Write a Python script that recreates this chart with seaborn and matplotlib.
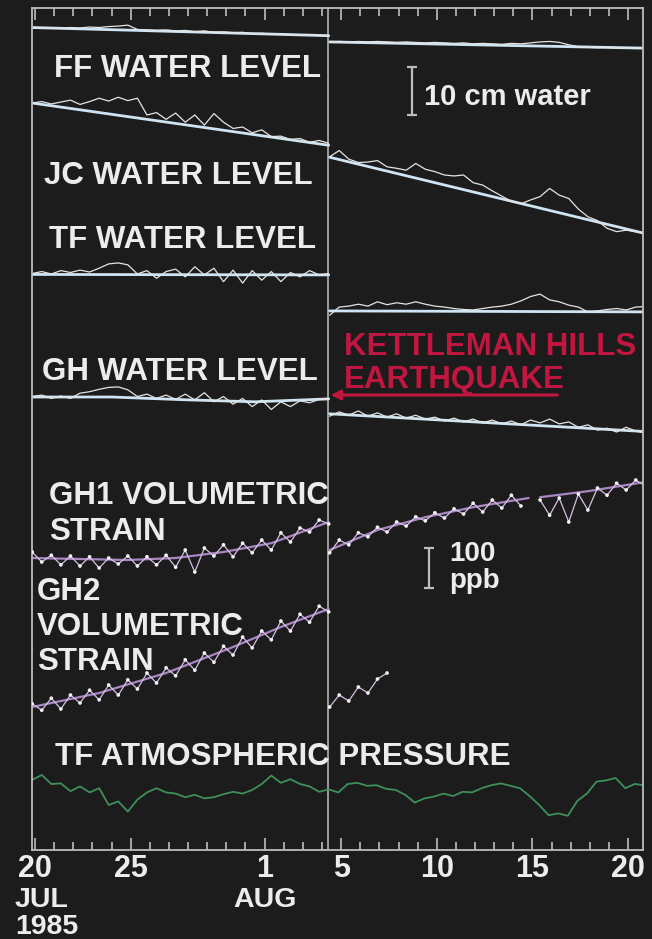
import numpy as np
import pandas as pd
import matplotlib
matplotlib.use("Agg")
import matplotlib.pyplot as plt
import seaborn as sns

BG = "#1c1c1c"
FG = "#ececec"
AXIS = "#bdbdbd"
RED = "#c0163f"

sns.set_style("dark", {"axes.facecolor": BG, "figure.facecolor": BG,
                       "axes.edgecolor": AXIS, "axes.grid": False})
plt.rcParams["font.family"] = ["Liberation Sans", "DejaVu Sans"]

# ---------------------------------------------------------------------------
# Time base: days counted in July 1985 (Aug 1 = 32), sampled twice a day
# ---------------------------------------------------------------------------
LEFT_DAYS = np.arange(19.85, 35.36, 0.5)      # before the earthquake
RIGHT_DAYS = np.arange(35.4, 51.95, 0.5)      # after the earthquake
PRESSURE_DAYS = np.arange(19.85, 51.86, 0.5)
QUAKE_DAY = 35.33                             # Kettleman Hills, 4 Aug 1985

TICK_DAYS = [20, 25, 32, 36, 41, 46, 51]
TICK_LABELS = ["20", "25", "1", "5", "10", "15", "20"]

# ---------------------------------------------------------------------------
# Water levels (cm, relative)
# ---------------------------------------------------------------------------
ff_left = [0.0, -0.1, 0.0, -0.1, 0.1, 0.0, 0.2, 0.1, 0.3, 0.4,
           0.6, -0.3, -0.4, -0.5, -0.4, -0.6, -0.5, -0.8, -0.6, -0.9,
           -0.8, -1.0, -0.9, -1.2, -1.1, -1.3, -1.2, -1.4, -1.5, -1.4,
           -1.6, -1.7]
ff_right = [-2.9, -2.8, -2.9, -2.8, -2.9, -2.8, -2.9, -3.0, -2.9, -3.0,
            -3.1, -3.0, -3.1, -3.2, -3.1, -3.3, -3.2, -3.3, -3.4, -3.2,
            -3.3, -3.1, -2.9, -2.8, -3.0, -3.5, -3.9, -4.0, -4.1, -4.0,
            -4.2, -4.1, -4.2, -4.2]
ff_fit_days = [19.85, 35.35, 35.4, 51.9]
ff_fit = [0.1, -1.6, -2.9, -4.2]

jc_left = [0.0, 0.3, -0.2, 0.2, 0.6, -0.3, 0.3, 1.0, 0.4, 1.2,
           0.5, 1.0, -2.5, -2.0, -3.4, -2.1, -4.0, -2.5, -4.6, -2.2,
           -4.0, -5.3, -5.0, -6.2, -5.6, -7.0, -6.9, -7.6, -7.4, -8.2,
           -7.8, -8.4]
jc_right = [-11.2, -9.9, -11.7, -12.4, -12.3, -12.0, -13.3, -13.6, -14.0, -12.6,
            -13.8, -14.3, -15.0, -15.2, -15.0, -16.6, -17.1, -18.3, -19.4, -20.5,
            -21.0, -20.2, -19.5, -17.8, -19.2, -19.9, -22.1, -23.7, -24.5, -26.1,
            -26.8, -26.5, -26.8, -27.1]
jc_fit_days = [19.85, 35.35, 35.4, 51.9]
jc_fit = [0.0, -8.8, -11.3, -27.2]

tf_left = [-0.1, 0.3, -0.2, 0.5, 0.1, 0.6, 0.2, 1.0, 1.9, 2.1,
           1.7, -0.2, 0.5, -1.1, 0.3, 0.8, -0.8, 1.3, -0.4, 1.0,
           -1.8, 0.6, -2.1, 0.5, -1.5, 0.3, -1.8, 0.1, -0.8, 0.5,
           -0.4, -0.1]
tf_right = [-8.8, -7.1, -6.9, -6.5, -6.9, -6.0, -6.6, -6.2, -6.5, -6.0,
            -6.5, -6.9, -7.1, -7.4, -7.6, -7.7, -7.4, -7.1, -6.9, -6.5,
            -5.8, -4.9, -4.4, -5.6, -6.0, -6.7, -7.1, -8.1, -7.9, -7.6,
            -7.4, -7.7, -7.1, -7.0]
tf_fit_days = [19.85, 35.35, 35.4, 51.9]
tf_fit = [-0.3, -0.4, -7.9, -8.1]

gh_left = [0.1, 0.4, -0.3, 0.2, -0.3, 0.8, 1.1, 1.6, 2.0, 2.1,
           1.5, 0.1, 0.6, -0.3, 0.4, -0.5, 0.6, -0.6, 0.9, -1.0,
           0.1, -1.5, -0.3, -2.0, -0.6, -2.6, -1.0, -2.0, -0.8, -1.2,
           -0.5, -0.3]
gh_right = [-4.0, -3.1, -3.8, -2.9, -4.0, -3.3, -4.2, -3.5, -4.4, -3.8,
            -4.6, -4.2, -5.0, -4.4, -5.2, -4.6, -5.4, -4.8, -5.6, -5.0,
            -5.8, -4.8, -5.4, -4.6, -5.6, -5.2, -6.3, -5.8, -6.9, -6.5,
            -7.3, -6.3, -7.1, -7.5]
gh_fit_left_days = [19.85, 24.0, 28.0, 31.5, 35.35]
gh_fit_left = [0.0, 0.0, -0.6, -1.0, -0.4]
gh_fit_right_days = [35.4, 43.0, 51.9]
gh_fit_right = [-3.5, -5.2, -7.2]

# ---------------------------------------------------------------------------
# Volumetric strain (ppb, relative)
# ---------------------------------------------------------------------------
gh1_left = [20, -5, 12, -12, 10, -15, 8, -20, 5, -10,
            10, -15, 8, -12, 12, -18, 25, -30, 30, 10,
            38, 8, 42, 18, 50, 25, 68, 45, 80, 70,
            100, 90]
gh1_right = [18, 50, 38, 68, 58, 82, 70, 95, 85, 108,
             98, 118, 105, 128, 115, 142, 120, 150, 130, 162,
             135, np.nan, 150, 112, 155, 95, 165, 125, 180, 162,
             192, 175, 200, 185]
gh1_fit_days = [19.85, 24.85, 27.35, 29.85, 32.35, 35.35, 35.37,
                35.4, 37.9, 40.4, 42.9, 45.8, 46.1,
                46.4, 48.9, 51.9]
gh1_fit = [5, 0, 5, 20, 42, 95, np.nan,
           25, 75, 107, 132, 155, np.nan,
           157, 172, 195]

gh2_left = [8, -8, 22, -5, 30, 10, 42, 18, 55, 30,
            68, 45, 85, 60, 98, 78, 118, 92, 135, 112,
            152, 130, 175, 148, 190, 168, 215, 190, 232, 212,
            252, 238]
gh2_right = [0, 30, 15, 50, 35, 70, 85]
gh2_fit_days = [19.85, 23.35, 26.85, 30.35, 32.85, 35.35]
gh2_fit = [0, 35, 85, 150, 200, 245]

# ---------------------------------------------------------------------------
# Atmospheric pressure at TF (mbar, relative)
# ---------------------------------------------------------------------------
tf_pressure = [1.7, 2.5, 1.0, 1.1, -0.2, 0.6, -0.4, 0.3, -2.5, -1.9,
               -3.6, -1.6, -0.4, 0.3, -0.4, -0.6, -1.2, -0.8, -1.4, -1.2,
               -0.7, -0.3, -0.6, 0.0, 1.0, 2.4, 1.2, 1.8, 1.0, 0.6,
               -0.3, 0.1, -0.4, 1.0, 1.2, 0.7, 0.8, 0.2, 0.0, -0.8,
               -2.1, -1.4, -1.1, -0.6, -1.0, -0.3, -0.4, 0.3, 0.8, 1.1,
               0.7, 0.3, -1.0, -2.5, -4.2, -3.9, -4.3, -1.8, -0.6, 1.4,
               1.6, 2.0, 0.3, 1.0, 0.8]

# ---------------------------------------------------------------------------
# Stacked layout: each record is drawn about its own baseline row
# ---------------------------------------------------------------------------
ROWS_PER_CM = 4.8
ROWS_PER_PPB = 0.4
ROWS_PER_MBAR = 6.0
BASE = {"FF": 20, "JC": 95, "TF": 265, "GH": 389,
        "GH1": 552, "GH2": 699, "PRESS": 782}

W, H = 652, 939
fig = plt.figure(figsize=(W / 100, H / 100), dpi=100)
ax = fig.add_axes([32 / W, 1 - 850 / H, (643 - 32) / W, (850 - 8) / H])
ax.set_facecolor(BG)


def to_rows(values, base, scale):
    return base - np.asarray(values, dtype=float) * scale


def draw(days, values, base, scale, color, lw, dots=False):
    rows = to_rows(values, base, scale)
    seg = np.cumsum(np.isnan(rows))
    df = pd.DataFrame({"day": np.asarray(days, dtype=float)[: len(rows)],
                       "row": rows, "seg": seg}).dropna()
    sns.lineplot(data=df, x="day", y="row", units="seg", estimator=None,
                 sort=False, color=color, lw=lw, ax=ax, legend=False)
    if dots:
        sns.scatterplot(data=df, x="day", y="row", s=7, color="#f4f0f8",
                        edgecolor="none", ax=ax, legend=False, zorder=4)


NOISY = "#e4e4e4"
FIT = "#cfe4f2"
for key, left, right, fdays, fit in [
    ("FF", ff_left, ff_right, ff_fit_days, ff_fit),
    ("JC", jc_left, jc_right, jc_fit_days, jc_fit),
    ("TF", tf_left, tf_right, tf_fit_days, tf_fit),
]:
    draw(fdays[:2], fit[:2], BASE[key], ROWS_PER_CM, FIT, 2.0)
    draw(fdays[2:], fit[2:], BASE[key], ROWS_PER_CM, FIT, 2.0)
    draw(LEFT_DAYS, left, BASE[key], ROWS_PER_CM, NOISY, 0.9)
    draw(RIGHT_DAYS, right, BASE[key], ROWS_PER_CM, NOISY, 0.9)

draw(gh_fit_left_days, gh_fit_left, BASE["GH"], ROWS_PER_CM, FIT, 2.0)
draw(gh_fit_right_days, gh_fit_right, BASE["GH"], ROWS_PER_CM, FIT, 2.0)
draw(LEFT_DAYS, gh_left, BASE["GH"], ROWS_PER_CM, NOISY, 0.9)
draw(RIGHT_DAYS, gh_right, BASE["GH"], ROWS_PER_CM, NOISY, 0.9)

STRAIN = "#d6bfe4"
STRAIN_FIT = "#a886c2"
draw(gh1_fit_days, gh1_fit, BASE["GH1"], ROWS_PER_PPB, STRAIN_FIT, 1.6)
draw(LEFT_DAYS, gh1_left, BASE["GH1"], ROWS_PER_PPB, STRAIN, 0.9, dots=True)
draw(RIGHT_DAYS, gh1_right, BASE["GH1"], ROWS_PER_PPB, STRAIN, 0.9, dots=True)
draw(gh2_fit_days, gh2_fit, BASE["GH2"], ROWS_PER_PPB, STRAIN_FIT, 1.6)
draw(LEFT_DAYS, gh2_left, BASE["GH2"], ROWS_PER_PPB, STRAIN, 0.9, dots=True)
draw(RIGHT_DAYS[: len(gh2_right)], gh2_right, BASE["GH2"], ROWS_PER_PPB,
     STRAIN, 0.9, dots=True)

draw(PRESSURE_DAYS, tf_pressure, BASE["PRESS"], ROWS_PER_MBAR, "#3f8f5a", 1.3)

# earthquake time
ax.axvline(QUAKE_DAY, color=AXIS, lw=1.1, zorder=1)

# axes frame and ticks
ax.set_xlim(19.84, 51.78)
ax.set_ylim(842, 0)
ax.set_xlabel("")
ax.set_ylabel("")
ax.set_yticks([])
ax.set_xticks(TICK_DAYS)
ax.set_xticklabels(TICK_LABELS)
ax.set_xticks(np.arange(20, 52), minor=True)
ax.tick_params(axis="x", which="both", direction="in", top=True, bottom=True,
               color=AXIS, width=1.2, labelcolor=FG, labelsize=22, pad=3)
ax.tick_params(axis="x", which="major", length=8.5)
ax.tick_params(axis="x", which="minor", length=5.5)
for lab in ax.get_xticklabels():
    lab.set_fontweight("bold")
for sp in ax.spines.values():
    sp.set_visible(True)
    sp.set_color(AXIS)
    sp.set_linewidth(1.3)

TXT = dict(color=FG, fontsize=22.5, fontweight="bold", ha="left", va="baseline")
ax.text(20.99, 69, "FF WATER LEVEL", **TXT)
ax.text(20.47, 176, "JC WATER LEVEL", **TXT)
ax.text(20.73, 240, "TF WATER LEVEL", **TXT)
ax.text(20.37, 372, "GH WATER LEVEL", **TXT)
ax.text(20.73, 496, "GH1 VOLUMETRIC", **TXT)
ax.text(20.73, 532, "STRAIN", **TXT)
ax.text(20.10, 592, "GH2", **TXT)
ax.text(20.10, 627, "VOLUMETRIC", **TXT)
ax.text(20.10, 662, "STRAIN", **TXT)
ax.text(21.05, 757, "TF ATMOSPHERIC PRESSURE", **TXT)

# scale bars
bar_cm = 10
ax.plot([39.70, 39.70], [59, 59 + bar_cm * ROWS_PER_CM], color=AXIS, lw=1.6,
        marker="_", ms=7, mew=1.6)
ax.text(40.33, 97, "10 cm water", **{**TXT, "fontsize": 21})
bar_ppb = 100
ax.plot([40.60, 40.60], [540, 540 + bar_ppb * ROWS_PER_PPB], color=AXIS, lw=1.6,
        marker="_", ms=7, mew=1.6)
ax.text(41.64, 553, "100", **{**TXT, "fontsize": 20})
ax.text(41.64, 580, "ppb", **{**TXT, "fontsize": 20})

# earthquake annotation
ax.text(36.15, 347, "KETTLEMAN HILLS", **{**TXT, "color": RED})
ax.text(36.15, 380, "EARTHQUAKE", **{**TXT, "color": RED})
ax.annotate("", xy=(35.45, 387), xytext=(47.3, 387),
            arrowprops=dict(arrowstyle="-|>", color=RED, lw=2.2,
                            mutation_scale=14, shrinkA=0, shrinkB=0))

# month / year under the day numbers
DATE = dict(color=FG, fontsize=20.5, fontweight="bold", va="baseline",
            clip_on=False)
ax.text(18.95, 899, "JUL", ha="left", **DATE)
ax.text(18.95, 926, "1985", ha="left", **DATE)
ax.text(32.0, 899, "AUG", ha="center", **DATE)

fig.savefig("out.png", dpi=100, facecolor=BG)
